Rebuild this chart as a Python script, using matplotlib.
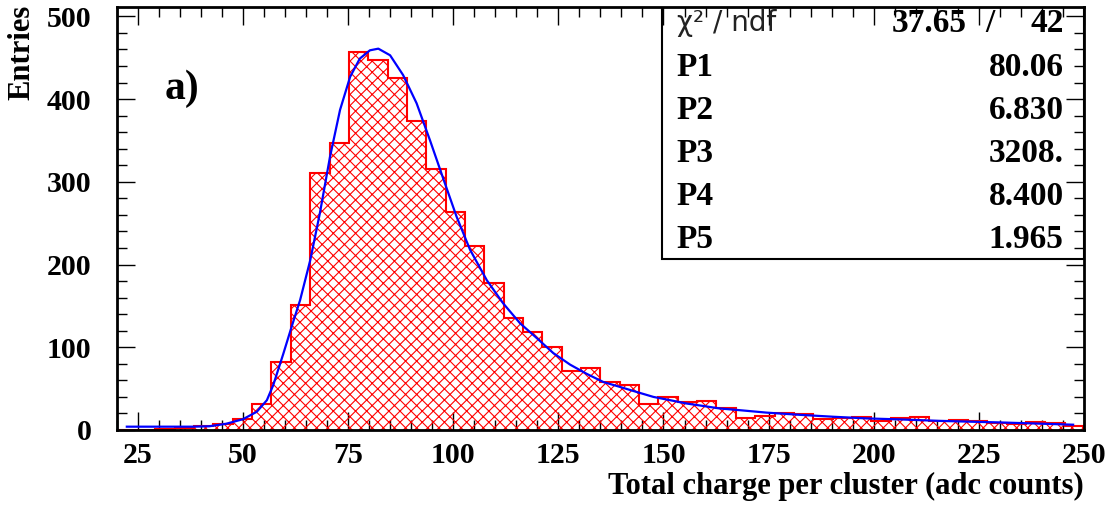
import matplotlib
matplotlib.use('Agg')
import matplotlib.pyplot as plt
import numpy as np
from matplotlib.patches import Rectangle

# histogram: 50 bins from 20 to 250
edges = np.linspace(20, 250, 51)
counts = [0, 0, 1, 2, 5, 7, 13, 31, 82, 151,
          311, 347, 457, 447, 426, 374, 315, 263, 222, 178,
          135, 118, 100, 71, 75, 58, 54, 31, 40, 34,
          35, 26, 14, 17, 20, 19, 13, 15, 16, 11,
          14, 16, 11, 12, 11, 8, 7, 10, 9, 5]

# fit curve
fit_x = [22.4, 30, 38, 42, 46, 50, 53.3, 55.7, 57.2, 59.6, 61.6, 63.6, 66, 68.3,
         70.7, 73.1, 75.5, 77.8, 80.2, 82.2, 85, 88.1, 91.3, 94.5, 97.7, 100.8,
         104, 108, 111.9, 115.9, 119.9, 123.8, 127.8, 131.7, 135.7, 139.7, 143.6,
         147.6, 151.6, 155.5, 159.5, 163.4, 168, 174.5, 182.5, 190.4, 198.3,
         206.2, 215.7, 231.6, 247.4]
fit_y = [4, 4, 4, 4.5, 7.5, 13, 22, 36, 54, 92, 125, 157, 205, 262,
         330, 387, 427, 449, 459, 461, 453, 429, 395, 350, 303, 258,
         218, 181, 153, 129, 111, 93, 79, 68, 58, 52, 46,
         40, 36, 32, 29, 26, 24, 21, 18.3, 16, 14,
         12.8, 11, 8.9, 6.4]

stat_names = ['P1', 'P2', 'P3', 'P4', 'P5']
stat_vals = ['80.06', '6.830', '3208.', '8.400', '1.965']
chi2 = '37.65'
ndf = '42'

plt.rcParams['font.family'] = 'Liberation Serif'
plt.rcParams['font.weight'] = 'bold'
plt.rcParams['hatch.linewidth'] = 0.8

fig = plt.figure(figsize=(11.17, 5.07), dpi=100)
ax = fig.add_axes([0.1045, 0.1519, 0.866, 0.8337])

ax.stairs(counts, edges, fill=True, facecolor='none', edgecolor='red',
          hatch='xxx', linewidth=1.5, zorder=2)
ax.plot(fit_x, fit_y, color='blue', lw=1.6, zorder=3)

ax.set_xlim(20, 250)
ax.set_ylim(0, 511)
ax.set_xticks(np.arange(25, 251, 25))
ax.set_xticks(np.arange(20, 251, 5), minor=True)
ax.set_yticks(np.arange(0, 501, 100))
ax.set_yticks(np.arange(0, 511, 20), minor=True)
ax.tick_params(which='both', direction='in', top=True, right=True, width=1.0)
ax.tick_params(which='major', length=13, labelsize=21.5)
ax.tick_params(which='minor', length=7)
ax.tick_params(axis='y', pad=18)
ax.tick_params(axis='x', pad=9)
for s in ax.spines.values():
    s.set_linewidth(2)

ax.set_xlabel('Total charge per cluster (adc counts)', loc='right',
              fontsize=22, fontweight='bold', labelpad=2)
ax.text(-0.098, 1.005, 'Entries', transform=ax.transAxes, rotation=90,
        ha='center', va='top', fontsize=22, fontweight='bold')
ax.text(0.050, 0.808, 'a)', transform=ax.transAxes, fontsize=30,
        fontweight='bold', va='center', ha='left')

# stats box
ax.add_patch(Rectangle((0.5634, 0.4038), 0.4366, 0.5962, transform=ax.transAxes,
                       facecolor='white', edgecolor='black', lw=1.5, zorder=1))
rows_y = [0.9628, 0.8587, 0.7570, 0.6530, 0.5513, 0.4495]
ax.text(0.579, rows_y[0], 'χ² / ndf', transform=ax.transAxes, fontsize=20,
        family=['DejaVu Sans'], fontweight='normal', va='center', ha='left',
        color='#222222')
ax.text(0.8787, rows_y[0], chi2, transform=ax.transAxes, fontsize=24,
        va='center', ha='right')
ax.text(0.9028, rows_y[0], '/', transform=ax.transAxes, fontsize=24,
        va='center', ha='center')
ax.text(0.979, rows_y[0], ndf, transform=ax.transAxes, fontsize=24,
        va='center', ha='right')
for name, val, yy in zip(stat_names, stat_vals, rows_y[1:]):
    ax.text(0.579, yy, name, transform=ax.transAxes, fontsize=24,
            va='center', ha='left')
    ax.text(0.979, yy, val, transform=ax.transAxes, fontsize=24,
            va='center', ha='right')

fig.savefig('out.png', dpi=100)
